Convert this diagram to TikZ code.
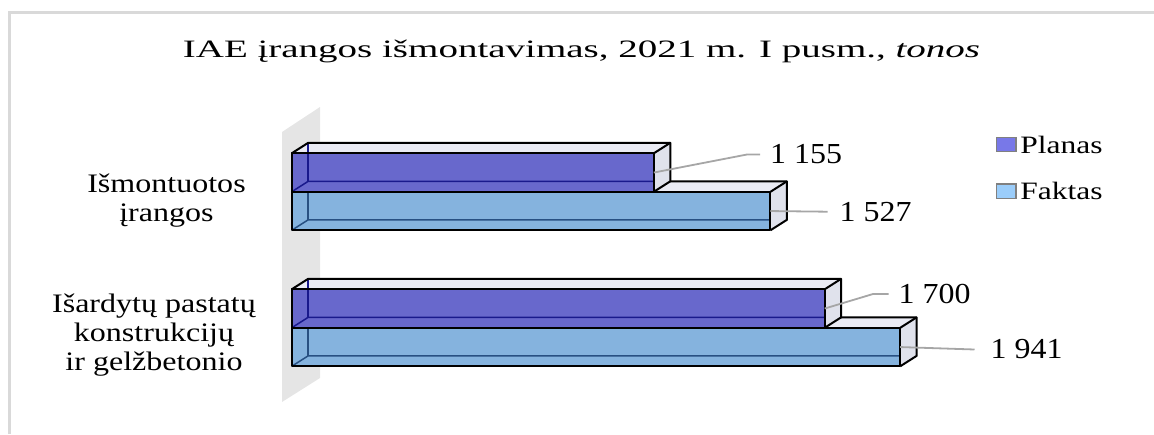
\documentclass[tikz,border=0pt]{standalone}
\usepackage{fontspec}
\usepackage{tikz}
\usetikzlibrary{positioning}
\setmainfont{Liberation Serif}
\newfontfamily\titlefont[FakeStretch=1.56]{Liberation Serif}
\newfontfamily\catfont[FakeStretch=1.2]{Liberation Serif}
\newfontfamily\numfont[FakeStretch=1.1]{Liberation Serif}
\newfontfamily\legfont[FakeStretch=1.26]{Liberation Serif}

\definecolor{planas}{RGB}{104,104,204}
\definecolor{planasline}{RGB}{25,25,140}
\definecolor{planaslegend}{RGB}{120,120,232}
\definecolor{faktas}{RGB}{133,179,222}
\definecolor{faktasline}{RGB}{40,80,130}
\definecolor{faktaslegend}{RGB}{155,205,250}
\definecolor{topface}{RGB}{234,235,244}
\definecolor{sideface}{RGB}{224,226,236}
\definecolor{wallgray}{RGB}{229,229,229}
\definecolor{framegray}{RGB}{217,217,217}
\definecolor{leadergray}{RGB}{166,166,166}

\tikzstyle{edge} = [draw=black, line width=2pt, line join=round]
\tikzstyle{hidden} = [line width=1.5pt]
\tikzstyle{leader} = [draw=leadergray, line width=1.8pt]
\tikzstyle{charttitle} = [font=\titlefont\fontsize{25}{30}\selectfont, anchor=base, inner sep=0pt]
\tikzstyle{valuelabel} = [font=\numfont\fontsize{29}{34}\selectfont, anchor=west, inner sep=0pt]
\tikzstyle{catlabel} = [font=\catfont\fontsize{26.7}{29}\selectfont, align=center, inner sep=0pt]
\tikzstyle{legendbox} = [draw=gray, line width=1.5pt, minimum width=19.3pt,
    minimum height=14.4pt, inner sep=0pt]
\tikzstyle{legendtext} = [font=\legfont\fontsize{25}{30}\selectfont, inner sep=0pt]

\begin{document}
\begin{tikzpicture}[x=1pt,y=-1pt]
\useasboundingbox (0,0) rectangle (1154,434);
% chart frame
\draw[framegray, line width=3pt] (9.5,434) -- (9.5,12) -- (1154,12);
\node[charttitle] (title) at (581.5,57.3) {IAE įrangos išmontavimas, 2021 m. I pusm., \textit{tonos}};

% back wall
\fill[wallgray] (282,132) -- (320,107) -- (320,378) -- (282,402) -- cycle;

% bars: value / front top / fill / inner edge colour / name
\foreach \val/\ytop/\col/\linecol/\bname in {1527/191.8/faktas/faktasline/f1,
    1155/153.3/planas/planasline/p1, 1941/327.8/faktas/faktasline/f2,
    1700/289.3/planas/planasline/p2}{
  \pgfmathsetmacro{\xend}{291.7+0.3135*\val}
  \pgfmathsetmacro{\ybot}{\ytop+38.5}
  \fill[\col] (291.7,\ytop) rectangle (\xend,\ybot);
  \fill[topface] (291.7,\ytop) -- (308.2,\ytop-10.5) -- (\xend+16.5,\ytop-10.5) -- (\xend,\ytop) -- cycle;
  \fill[sideface] (\xend,\ytop) -- (\xend+16.5,\ytop-10.5) -- (\xend+16.5,\ybot-10.5) -- (\xend,\ybot) -- cycle;
  \draw[hidden,\linecol] (291.7,\ybot) -- (308.2,\ybot-10.5) -- (\xend,\ybot-10.5);
  \draw[hidden,\linecol] (308.2,\ybot-10.5) -- (308.2,\ytop-10.5);
  \draw[edge] (291.7,\ytop) rectangle (\xend,\ybot);
  \draw[edge] (291.7,\ytop) -- (308.2,\ytop-10.5) -- (\xend+16.5,\ytop-10.5)
    -- (\xend+16.5,\ybot-10.5) -- (\xend,\ybot);
  \draw[edge] (\xend,\ytop) -- (\xend+16.5,\ytop-10.5);
  \coordinate (\bname) at (\xend,\ytop+19.25);
}

% data labels
\node[valuelabel] (p1val) at (770,154.5) {1 155};
\node[valuelabel] (f1val) at (839.5,211.7) {1 527};
\node[valuelabel] (p2val) at (898.5,294) {1 700};
\node[valuelabel] (f2val) at (990.5,349.5) {1 941};
\draw[leader] (p1) -- ([xshift=-23pt]p1val.west) -- ([xshift=-10pt]p1val.west);
\draw[leader] (f1) -- ([xshift=-12pt]f1val.west);
\draw[leader] (p2) -- ([xshift=-25.5pt]p2val.west) -- ([xshift=-10pt]p2val.west);
\draw[leader] (f2) -- ([xshift=-16pt]f2val.west);

% categories
\node[catlabel] (cat1) at (166.5,200.5) {Išmontuotos\\ įrangos};
\node[catlabel] (cat2) at (154,335) {Išardytų pastatų\\ konstrukcijų\\ ir gelžbetonio};

% legend
\node[legendbox, fill=planaslegend] (lp) at (1006.3,144.5) {};
\node[legendtext, right=3.5pt of lp] (lpt) {Planas};
\node[legendbox, fill=faktaslegend] (lf) at (1006.3,191.3) {};
\node[legendtext, right=3.5pt of lf] (lft) {Faktas};
\end{tikzpicture}
\end{document}
